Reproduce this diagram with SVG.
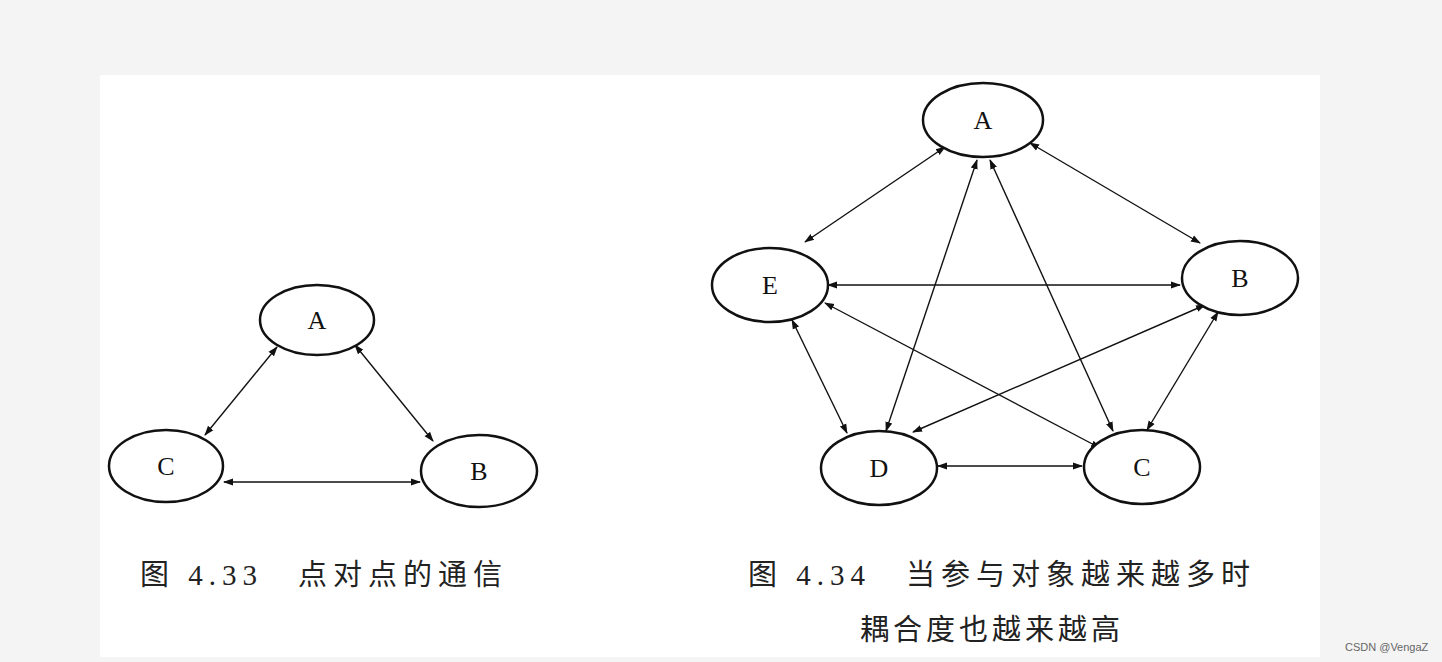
<svg xmlns="http://www.w3.org/2000/svg" width="1442" height="662" viewBox="0 0 1442 662">
<defs>
<marker id="ah" viewBox="0 0 10 10" refX="9" refY="5" markerWidth="10" markerHeight="10" orient="auto-start-reverse" markerUnits="userSpaceOnUse"><path d="M0,1.5 L10,5 L0,8.5 Z" fill="#111"/></marker>
</defs>
<style>
.n ellipse{fill:#fff;stroke:#111;stroke-width:2.5}
.n text{font-family:"Liberation Serif",serif;font-size:26px;fill:#111;text-anchor:middle;dominant-baseline:central}
#edges line{stroke:#111;stroke-width:1.4;marker-start:url(#ah);marker-end:url(#ah)}
.cap{font-family:"Liberation Serif","Noto Sans CJK SC",serif;font-size:29px;fill:#222;letter-spacing:6px}
</style>
<rect width="1442" height="662" fill="#f4f4f4"/>
<rect x="100" y="75" width="1220" height="582" fill="#fff"/>
<g id="edges">
<line x1="277" y1="347" x2="205" y2="435"/>
<line x1="355" y1="345" x2="433" y2="441"/>
<line x1="224" y1="482" x2="420" y2="482"/>
<line x1="945" y1="147" x2="805" y2="242"/>
<line x1="1030" y1="143" x2="1200" y2="243"/>
<line x1="828" y1="285" x2="1180" y2="285"/>
<line x1="977" y1="160" x2="886" y2="431"/>
<line x1="990" y1="160" x2="1113" y2="431"/>
<line x1="792" y1="320" x2="847" y2="433"/>
<line x1="825" y1="303" x2="1100" y2="448"/>
<line x1="1205" y1="305" x2="913" y2="432"/>
<line x1="1218" y1="312" x2="1147" y2="430"/>
<line x1="938" y1="466" x2="1082" y2="466"/>
</g>
<g id="L_A" class="n"><ellipse cx="317" cy="320" rx="57" ry="35"/><text x="317" y="320">A</text></g>
<g id="L_C" class="n"><ellipse cx="166" cy="466" rx="57" ry="36"/><text x="166" y="466">C</text></g>
<g id="L_B" class="n"><ellipse cx="479" cy="471" rx="58" ry="36"/><text x="479" y="471">B</text></g>
<g id="R_A" class="n"><ellipse cx="983" cy="120" rx="60" ry="37"/><text x="983" y="120">A</text></g>
<g id="R_E" class="n"><ellipse cx="770" cy="285" rx="58" ry="37"/><text x="770" y="285">E</text></g>
<g id="R_B" class="n"><ellipse cx="1240" cy="278" rx="58" ry="37"/><text x="1240" y="278">B</text></g>
<g id="R_D" class="n"><ellipse cx="879" cy="468" rx="58" ry="37"/><text x="879" y="468">D</text></g>
<g id="R_C" class="n"><ellipse cx="1142" cy="467" rx="58" ry="37"/><text x="1142" y="467">C</text></g>
<text class="cap" x="140" y="585">图 4.33　点对点的通信</text>
<text class="cap" x="748" y="585">图 4.34　当参与对象越来越多时</text>
<text class="cap" x="860" y="640" style="letter-spacing:4px">耦合度也越来越高</text>
<text x="1345" y="651" font-family="'Liberation Sans',sans-serif" font-size="11" fill="#666">CSDN @VengaZ</text>
</svg>
